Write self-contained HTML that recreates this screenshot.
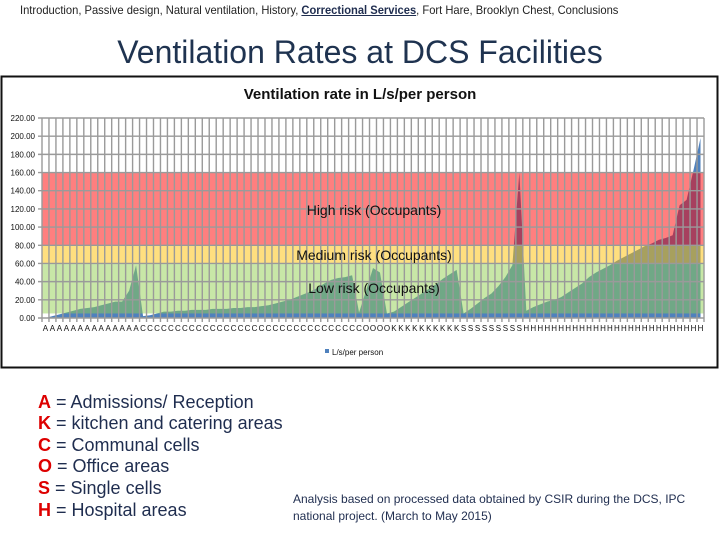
<!DOCTYPE html>
<html><head><meta charset="utf-8"><style>
body{margin:0;width:720px;height:540px;background:#fff;position:relative;overflow:hidden;font-family:"Liberation Sans",sans-serif}
.abs{position:absolute;white-space:nowrap}
.key{position:absolute;left:38px;font-size:18px;color:#1f2d4f}
.key b{color:#d00}
</style></head><body>
<div class="abs" style="left:20px;top:3px;font-size:12px;color:#222;transform:scaleX(0.93);transform-origin:left">Introduction, Passive design, Natural ventilation, History, <b style="text-decoration:underline;color:#1f2d4f">Correctional Services</b>, Fort Hare, Brooklyn Chest, Conclusions</div>
<div class="abs" style="left:0;width:720px;text-align:center;top:34px;font-size:32px;color:#1f3350">Ventilation Rates at DCS Facilities</div>
<svg class="abs" style="left:0;top:0" width="720" height="540" id="chart"></svg>
<div class="key" style="top:392px"><b>A</b> = Admissions/ Reception</div>
<div class="key" style="top:413px"><b>K</b> = kitchen and catering areas</div>
<div class="key" style="top:435px"><b>C</b> = Communal cells</div>
<div class="key" style="top:456px"><b>O</b> = Office areas</div>
<div class="key" style="top:478px"><b>S</b> = Single cells</div>
<div class="key" style="top:500px"><b>H</b> = Hospital areas</div>
<div class="abs" style="left:293px;top:491px;font-size:12px;line-height:17px;color:#1f2d4f">Analysis based on processed data obtained by CSIR during the DCS, IPC<br>national project. (March to May 2015)</div>
<script>
const categories = ("AAAAAAAAAAAAAA"+"CCCCCCCCCCCCCCCCCCCCCCCCCCCCCCCC"+"OOOO"+"KKKKKKKKKK"+"SSSSSSSSS"+"HHHHHHHHHHHHHHHHHHHHHHHHHH").split("");
const values = [0,2,4,6,8,10,11,12,14,16,18,18,30,58,
2,3,5,7,7,8,8,9,9,9,10,10,10,11,11,12,12,13,14,16,18,20,23,26,29,33,38,42,44,45,47,6,
30,55,50,5,
7,12,17,22,27,32,37,43,48,53,
5,10,16,22,27,35,45,58,160,
8,12,15,18,20,23,28,33,38,45,50,54,58,63,67,71,75,79,82,86,88,91,124,130,163,198];
const yTicks = [0,20,40,60,80,100,120,140,160,180,200,220];
const bands = [{from:5,to:60,color:"rgba(146,208,80,0.5)",label:"Low risk (Occupants)",name:"low-risk-band"},
{from:60,to:80,color:"rgba(255,192,0,0.5)",label:"Medium risk (Occupants)",name:"medium-risk-band"},
{from:80,to:160,color:"rgba(255,0,0,0.5)",label:"High risk (Occupants)",name:"high-risk-band"}];
const NS="http://www.w3.org/2000/svg";
const svg=document.getElementById("chart");
const X0=42,X1=704,Y0=318,YMAX=220,PPU=200/220;
const n=categories.length,step=(X1-X0)/n;
const xs=i=>X0+(i+0.5)*step;
const ys=v=>Y0-v*PPU;
function mk(t,a){const e=document.createElementNS(NS,t);for(const k in a)e.setAttribute(k,a[k]);svg.appendChild(e);return e;}
let e=mk("rect",{x:1.5,y:76.5,width:716,height:291,fill:"#fff",stroke:"#111","stroke-width":2});


e=mk("text",{x:360,y:99,"text-anchor":"middle","font-size":15,"font-weight":"bold",fill:"#111","font-family":"Liberation Sans,sans-serif"});
e.textContent="Ventilation rate in L/s/per person";


let d="M"+xs(0)+","+ys(0);
values.forEach((v,i)=>{d+=" L"+xs(i)+","+ys(v);});
d+=" L"+xs(n-1)+","+Y0+" Z";
e=mk("path",{d:d,fill:"#4f81bd"});


bands.forEach(b=>{
 e=mk("rect",{x:X0,y:ys(b.to),width:X1-X0,height:(b.to-b.from)*PPU,fill:b.color});
 
 
});
for(let i=0;i<=n;i++){e=mk("line",{x1:X0+i*step,x2:X0+i*step,y1:ys(220),y2:Y0+4,stroke:"#9a9a9a","stroke-width":1.4});

}
yTicks.forEach(t=>{
 e=mk("line",{x1:X0-4,x2:X1,y1:ys(t),y2:ys(t),stroke:"#9a9a9a","stroke-width":1.4});
 
 
 e=mk("text",{x:35,y:ys(t)+3,"text-anchor":"end","font-size":8,fill:"#111","font-family":"Liberation Sans,sans-serif"});
 e.textContent=t.toFixed(2);
 
 
});
categories.forEach((c,i)=>{
 e=mk("text",{x:xs(i),y:331,"text-anchor":"middle","font-size":8,fill:"#111","font-family":"Liberation Sans,sans-serif"});
 e.textContent=c;
 
 
});
const labelY={"high-risk-band":215,"medium-risk-band":260,"low-risk-band":293};
bands.forEach(b=>{
 e=mk("text",{x:374,y:labelY[b.name],"text-anchor":"middle","font-size":14,fill:"#111","font-family":"Liberation Sans,sans-serif"});
 e.textContent=b.label;
 
 
});
e=mk("rect",{x:325,y:349,width:4,height:4,fill:"#4f81bd"});


e=mk("text",{x:332,y:355,"font-size":8,fill:"#111","font-family":"Liberation Sans,sans-serif"});
e.textContent="L/s/per person";


</script>
</body></html>
